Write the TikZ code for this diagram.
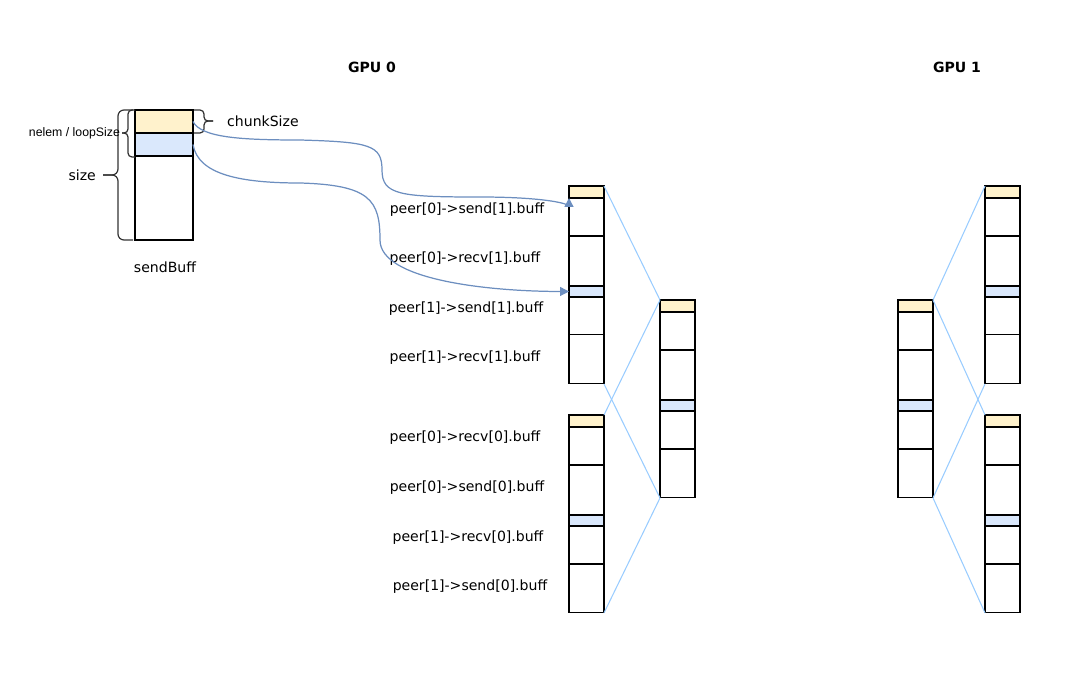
\documentclass[tikz,border=0pt]{standalone}
\usepackage{fontspec}
\setmainfont{DejaVu Sans}
\newfontfamily\smallsans{Liberation Sans}
\usetikzlibrary{positioning,arrows.meta}
\definecolor{chunkyellow}{HTML}{FFF2CC}
\definecolor{chunkblue}{HTML}{DAE8FC}
\definecolor{flowblue}{HTML}{6C8EBF}
\definecolor{zoomblue}{HTML}{99CCFF}
\definecolor{bracegray}{HTML}{333333}
\tikzset{
  cell/.style={draw, line width=0.6pt, minimum width=0.7cm, inner sep=0pt, outer sep=0pt},
  yelcell/.style={cell, fill=chunkyellow, minimum height=0.24cm},
  bluecell/.style={cell, fill=chunkblue, minimum height=0.22cm},
  sbcell/.style={cell, minimum width=1.16cm},
  zoomline/.style={draw=zoomblue, line width=0.6pt},
  flow/.style={draw=flowblue, line width=0.7pt, -{Triangle[length=5pt, width=5pt]}},
  bracemark/.style={draw=bracegray, line width=0.7pt, rounded corners=0.12cm},
  bufflabel/.style={inner sep=1pt}
}
\begin{document}
\begin{tikzpicture}[x=0.02cm, y=-0.02cm, font=\fontsize{8}{10}\selectfont]
\useasboundingbox (0,0) rectangle (1085,686);
\node[font=\fontsize{8}{10}\selectfont\bfseries] (gpu0) at (372,67) {GPU 0};
\node[font=\fontsize{8}{10}\selectfont\bfseries] (gpu1) at (957,67) {GPU 1};

% sendBuff
\node[sbcell, fill=chunkyellow, minimum height=0.46cm, anchor=north west] (sb-1) at (135,110) {};
\node[sbcell, fill=chunkblue, minimum height=0.46cm, below=0pt of sb-1] (sb-2) {};
\node[sbcell, minimum height=1.68cm, below=0pt of sb-2] (sb-3) {};
\node (sbname) at (165,267) {sendBuff};

% braces
\draw[bracemark] (133,110) -- (118,110) -- (118,175) -- (103,175);
\draw[bracemark] (133,240) -- (118,240) -- (118,175) -- (103,175);
\draw[bracemark, rounded corners=0.08cm] (135,110) -- (128,110) -- (128,133) -- (122,133);
\draw[bracemark, rounded corners=0.08cm] (135,157) -- (128,157) -- (128,133) -- (122,133);
\draw[bracemark, rounded corners=0.08cm] (194,110) -- (204,110) -- (204,121) -- (213,121);
\draw[bracemark, rounded corners=0.08cm] (194,133) -- (204,133) -- (204,121) -- (213,121);
\node[anchor=east] (sizelbl) at (102,175) {size};
\node[anchor=east, inner sep=1pt, font=\smallsans\fontsize{7}{8}\selectfont] (nelemlbl) at (122,133) {nelem / loopSize};
\node[anchor=west] (chunklbl) at (221,121) {chunkSize};

% buffer columns
\foreach \c/\x/\y in {g0a/569/186, g0b/569/415, g0m/660/300, g1m/898/300, g1a/985/186, g1b/985/415} {
  \node[yelcell, anchor=north west] (\c-1) at (\x,\y) {};
  \node[cell, minimum height=0.76cm, below=0pt of \c-1] (\c-2) {};
  \node[cell, minimum height=1.0cm, below=0pt of \c-2] (\c-3) {};
  \node[bluecell, below=0pt of \c-3] (\c-4) {};
  \node[cell, minimum height=0.76cm, below=0pt of \c-4] (\c-5) {};
  \node[cell, minimum height=0.98cm, below=0pt of \c-5] (\c-6) {};
}

% labels
\node[bufflabel] (l1) at (467,210) {peer[0]->send[1].buff};
\node[bufflabel] (l2) at (465,259) {peer[0]->recv[1].buff};
\node[bufflabel] (l3) at (466,309) {peer[1]->send[1].buff};
\node[bufflabel] (l4) at (465,358) {peer[1]->recv[1].buff};
\node[bufflabel] (l5) at (465,438) {peer[0]->recv[0].buff};
\node[bufflabel] (l6) at (467,488) {peer[0]->send[0].buff};
\node[bufflabel] (l7) at (468,538) {peer[1]->recv[0].buff};
\node[bufflabel] (l8) at (470,587) {peer[1]->send[0].buff};

% zoom lines
\draw[zoomline] (g0a-1.north east) -- (g0m-1.north west);
\draw[zoomline] (g0a-6.south east) -- (g0m-6.south west);
\draw[zoomline] (g0b-1.north east) -- (g0m-1.north west);
\draw[zoomline] (g0b-6.south east) -- (g0m-6.south west);
\draw[zoomline] (g1m-1.north east) -- (g1a-1.north west);
\draw[zoomline] (g1m-6.south east) -- (g1a-6.south west);
\draw[zoomline] (g1m-1.north east) -- (g1b-1.north west);
\draw[zoomline] (g1m-6.south east) -- (g1b-6.south west);

% copies
\draw[flow] (sb-1.east) .. controls +(8,16) and +(-60,0) .. (300,140)
  .. controls +(70,2) and +(0,-25) .. (382,170)
  .. controls +(0,25) and +(-80,0) .. (480,197)
  .. controls +(60,0) and +(0,5) .. (g0a-1.south west);
\draw[flow] (sb-2.east) .. controls +(5,30) and +(-60,0) .. (300,183)
  .. controls +(70,2) and +(0,-40) .. (380,240)
  .. controls +(0,40) and +(-80,0) .. (g0a-4.west);
\end{tikzpicture}
\end{document}
